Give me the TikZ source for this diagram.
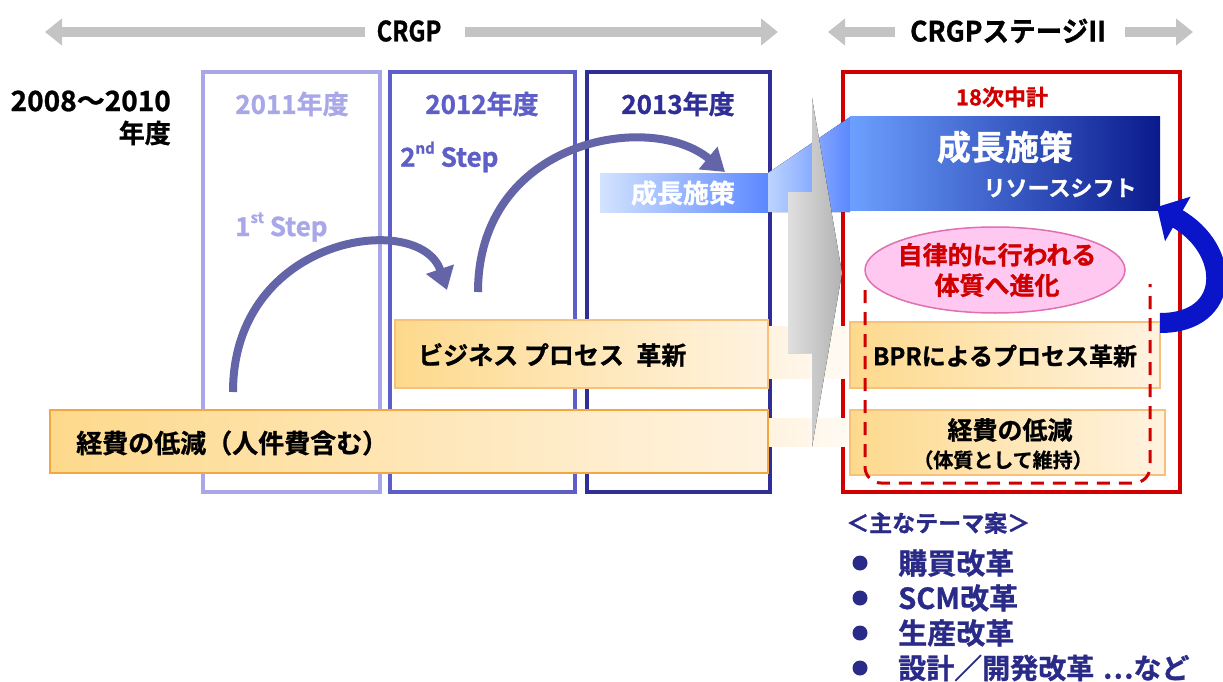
\documentclass[tikz,border=0pt]{standalone}
\usepackage{fontspec}
\setmainfont{Noto Sans CJK JP}[BoldFont={Noto Sans CJK JP Bold},BoldFeatures={FakeBold=1}]
\usetikzlibrary{arrows.meta,shapes.geometric}
\definecolor{cone}{HTML}{A8A8E8}
\definecolor{ctwo}{HTML}{5E5EC8}
\definecolor{cthree}{HTML}{2E2E96}
\definecolor{arcc}{HTML}{6464A8}
\definecolor{redc}{HTML}{D00000}
\definecolor{orb}{HTML}{F4A640}
\definecolor{orl}{HTML}{FDD98C}
\definecolor{orr}{HTML}{FFF3E0}
\definecolor{bll}{HTML}{6CA0FF}
\definecolor{blr}{HTML}{0A1A8C}
\definecolor{bulc}{HTML}{2A2A88}
\definecolor{pinkc}{HTML}{FFC8F0}
\definecolor{pinkb}{HTML}{E070B0}
\definecolor{barr}{HTML}{0A14C8}
\definecolor{grayar}{HTML}{C4C4C4}
\newcommand\fsz[1]{\fontsize{#1}{#1}\selectfont}
\begin{document}
\begin{tikzpicture}[x=1pt,y=-1pt,
  colbox/.style={draw=#1,line width=4pt,fill=white,inner sep=0pt},
  orbox/.style={draw=orb,line width=1.5pt,left color=orl,right color=orr,inner sep=0pt},
  lbl/.style={font=\bfseries,inner sep=0pt},
  arcarrow/.style={draw=arcc,line width=8pt,-{Triangle[length=22pt,width=28pt]}},
  toparrow/.style={draw=grayar,line width=10pt,-{Triangle[length=17pt,width=26pt]}},
  bul/.style={circle,fill=bulc,minimum size=15pt,inner sep=0pt}]
\useasboundingbox (0,0) rectangle (1223,682);
% top arrows
\node[lbl,text=black] (crgp) at (409,31) {\fsz{28}\scalebox{0.85}[1]{CRGP}};
\coordinate (a1s) at (365,32); \coordinate (a1e) at (45,32);
\coordinate (a2s) at (465,32); \coordinate (a2e) at (778,32);
\draw[toparrow] (a1s) -- (a1e);
\draw[toparrow] (a2s) -- (a2e);
\node[lbl,text=black] (crgp2) at (1008,31) {\fsz{28}\scalebox{0.95}[1]{CRGPステージII}};
\coordinate (b1s) at (895,32); \coordinate (b1e) at (828,32);
\coordinate (b2s) at (1125,32); \coordinate (b2e) at (1193,32);
\draw[toparrow] (b1s) -- (b1e);
\draw[toparrow] (b2s) -- (b2e);
% left year text
\node[lbl,anchor=east] (y0a) at (171,101) {\fsz{28}2008〜2010};
\node[lbl,anchor=east] (y0b) at (171,133) {\fsz{26}年度};
% columns
\node[colbox=cone,minimum width=177pt,minimum height=420pt] (col1) at (291.5,282) {};
\node[colbox=ctwo,minimum width=185pt,minimum height=420pt] (col2) at (482.5,282) {};
\node[colbox=cthree,minimum width=183pt,minimum height=420pt] (col3) at (678.5,282) {};
\node[colbox=redc,line width=4.5pt,minimum width=337pt,minimum height=420pt] (stage) at (1011.5,282) {};
\node[lbl,text=cone] (y1) at (292,104) {\fsz{26}2011年度};
\node[lbl,text=ctwo] (y2) at (482,104) {\fsz{26}2012年度};
\node[lbl,text=cthree] (y3) at (678,104) {\fsz{26}2013年度};
\node[lbl,text=redc] (chu) at (1002,97) {\fsz{22}18次中計};
\node[lbl,text=ctwo,anchor=west] (st2) at (400,157) {\fsz{26}2\raisebox{0.5em}{\fsz{15}nd} Step};
\node[lbl,text=cone,anchor=west] (st1) at (235,227) {\fsz{26}1\raisebox{0.5em}{\fsz{15}st} Step};
% faded bands
\fill[left color=orr,right color=orr!40] (768,326) rectangle (850,378);
\fill[left color=orr,right color=orr!40] (768,418) rectangle (850,446);
% small blue bar + ramp
\node[inner sep=0pt,minimum width=168pt,minimum height=39pt,left color=bll!30,right color=bll!85!blue] (gbar) at (684,192.5) {};
\node[lbl,text=white] (gbart) at (683,193) {\fsz{26}成長施策};
\fill[left color=bll!45,right color=bll!85!blue] (768,173) -- (850,117) -- (850,212) -- (768,212) -- cycle;
% gray arrow
\fill[left color=gray!25,right color=gray!60] (788,192) -- (812,192) -- (812,98) -- (842,273) -- (812,447) -- (812,353) -- (788,353) -- cycle;
% big blue box
\node[inner sep=0pt,minimum width=310pt,minimum height=93pt,left color=bll,right color=blr] (grow) at (1005,163.5) {};
\node[lbl,text=white] (growt) at (1005,147) {\fsz{34}成長施策};
\node[lbl,text=white] (shift) at (1060,188) {\fsz{22}リソースシフト};
% orange boxes
\node[orbox,minimum width=718pt,minimum height=63pt] (keihi) at (409,441.5) {};
\node[lbl,anchor=west] (keihit) at (76,443) {\fsz{26}経費の低減（人件費含む）};
\node[orbox,draw=orb!70,minimum width=373pt,minimum height=68pt] (biz) at (581.5,354) {};
\node[lbl,anchor=west] (bizt) at (418,355) {\fsz{25}ビジネス プロセス\hspace{0.5em}革新};
\node[orbox,draw=orb!70,minimum width=310pt,minimum height=66pt] (bpr) at (1005,355) {};
\node[lbl] (bprt) at (1005,356) {\fsz{24}BPRによるプロセス革新};
\node[orbox,draw=orb!70,minimum width=315pt,minimum height=65pt] (keihi2) at (1007.5,442.5) {};
\node[lbl] (keihi2a) at (1010,430) {\fsz{25}経費の低減};
\node[lbl] (keihi2b) at (1003,460) {\fsz{20}（体質として維持）};
% dashed U
\draw[redc,line width=3pt,dash pattern=on 13pt off 9pt,rounded corners=16pt] (865,290) -- (865,483) -- (1150,483) -- (1150,284);
% ellipse
\node[ellipse,draw=pinkb,line width=1.5pt,fill=pinkc,minimum width=260pt,minimum height=86pt,inner sep=0pt] (ell) at (995,270) {};
\node[lbl,text=redc,align=center] (ellt) at (997,270) {\fsz{25}自律的に行われる\\[6pt]\fsz{25}体質へ進化};
% step arcs
\coordinate (p1s) at (233,392); \coordinate (p1e) at (447,290);
\coordinate (p2s) at (478,292); \coordinate (p2e) at (725,172);
\draw[arcarrow] (p1s) .. controls (233,235) and (420,210) .. (p1e);
\draw[arcarrow] (p2s) .. controls (478,140) and (650,110) .. (p2e);
% blue curved arrow
\coordinate (q1s) at (1160,323); \coordinate (q1e) at (1157,207);
\draw[barr,line width=20pt,-{Triangle[length=24pt,width=50pt]}] (q1s) .. controls (1232,323) and (1232,250) .. (q1e);
% bullets
\node[lbl,text=bulc,anchor=west] (theme) at (846,523) {\fsz{23}＜主なテーマ案＞};
\node[bul] (b1) at (860,563) {};
\node[bul] (b2) at (860,598) {};
\node[bul] (b3) at (860,633) {};
\node[bul] (b4) at (860,668) {};
\node[lbl,text=bulc,anchor=west] (t1) at (898,563) {\fsz{29}購買改革};
\node[lbl,text=bulc,anchor=west] (t2) at (898,598) {\fsz{29}SCM改革};
\node[lbl,text=bulc,anchor=west] (t3) at (898,633) {\fsz{29}生産改革};
\node[lbl,text=bulc,anchor=west] (t4) at (898,668) {\fsz{28}設計／開発改革\hspace{0.3em}…など};
\end{tikzpicture}
\end{document}
